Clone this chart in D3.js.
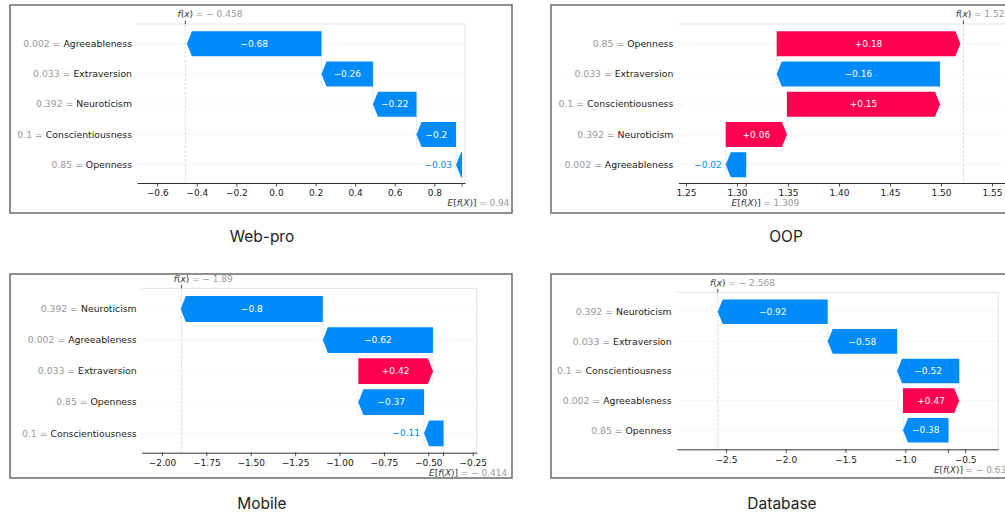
<!DOCTYPE html>
<html>
<head>
<meta charset="utf-8">
<script src="https://cdn.jsdelivr.net/npm/d3@7"></script>
<style>
  html, body { margin: 0; padding: 0; background: #fff; }
  svg { display: block; }
</style>
</head>
<body>
<svg id="chart" width="1005" height="515"></svg>
<script>
// ---- Data -----------------------------------------------------------------
// Input value of each personality trait (shown in grey before the name)
const traitNames  = ["Agreeableness", "Extraversion", "Neuroticism", "Conscientiousness", "Openness"];
const traitInputs = ["0.002", "0.033", "0.392", "0.1", "0.85"];

// Web-pro: rows top -> bottom, SHAP contributions, base value E[f(X)] and output f(x)
const webproFeatures = ["Agreeableness", "Extraversion", "Neuroticism", "Conscientiousness", "Openness"];
const webproShap     = [-0.68, -0.26, -0.22, -0.2, -0.03];
const webproBase     = 0.94;
const webproFx       = -0.458;
const webproTicks    = [-0.6, -0.4, -0.2, 0.0, 0.2, 0.4, 0.6, 0.8];
const webproDomain   = [-0.702, 0.955];

// OOP
const oopFeatures = ["Openness", "Extraversion", "Conscientiousness", "Neuroticism", "Agreeableness"];
const oopShap     = [0.18, -0.16, 0.15, 0.06, -0.02];
const oopBase     = 1.309;
const oopFx       = 1.522;
const oopTicks    = [1.25, 1.30, 1.35, 1.40, 1.45, 1.50, 1.55];
const oopDomain   = [1.2425, 1.5637];

// Mobile
const mobileFeatures = ["Neuroticism", "Agreeableness", "Extraversion", "Openness", "Conscientiousness"];
const mobileShap     = [-0.8, -0.62, 0.42, -0.37, -0.11];
const mobileBase     = -0.414;
const mobileFx       = -1.89;
const mobileTicks    = [-2.0, -1.75, -1.5, -1.25, -1.0, -0.75, -0.5, -0.25];
const mobileDomain   = [-2.114, -0.2275];

// Database
const databaseFeatures = ["Neuroticism", "Extraversion", "Conscientiousness", "Agreeableness", "Openness"];
const databaseShap     = [-0.92, -0.58, -0.52, 0.47, -0.38];
const databaseBase     = -0.639;
const databaseFx       = -2.568;
const databaseTicks    = [-2.5, -2.0, -1.5, -1.0, -0.5];
const databaseDomain   = [-2.912, -0.222];

// ---- Styling --------------------------------------------------------------
const BLUE = "#008bfb";
const RED = "#ff0051";
const GREY = "#999999";
const INK = "#1a1a1a";
const FONT = "'DejaVu Sans', sans-serif";

const panels = [
  { title: "Web-pro", features: webproFeatures, shap: webproShap, base: webproBase, fx: webproFx,
    ticks: webproTicks, domain: webproDomain, tickFmt: ".1f",
    box: [10, 5, 502, 208], plot: { l: 137, r: 465, t: 24, b: 183 }, rows: [43.7, 164.7], titlePos: [262, 242] },
  { title: "OOP", features: oopFeatures, shap: oopShap, base: oopBase, fx: oopFx,
    ticks: oopTicks, domain: oopDomain, tickFmt: ".2f",
    box: [551, 5, 502, 208], plot: { l: 678.3, r: 1006, t: 24, b: 183 }, rows: [43.7, 164.7], titlePos: [786, 242] },
  { title: "Mobile", features: mobileFeatures, shap: mobileShap, base: mobileBase, fx: mobileFx,
    ticks: mobileTicks, domain: mobileDomain, tickFmt: ".2f",
    box: [10, 274, 502, 204], plot: { l: 141.7, r: 476.7, t: 288.3, b: 452.7 }, rows: [309, 433.3], titlePos: [262, 509] },
  { title: "Database", features: databaseFeatures, shap: databaseShap, base: databaseBase, fx: databaseFx,
    ticks: databaseTicks, domain: databaseDomain, tickFmt: ".1f",
    box: [551, 274, 502, 204], plot: { l: 676.7, r: 998.3, t: 292.3, b: 449.3 }, rows: [311.7, 430.3], titlePos: [782, 509] }
];

const svg = d3.select("#chart");
const fmtShap = d3.format("+.2~f");
const fmtVal = d3.format(".3~f");
const eqText = v => (v < 0 ? "= \u2212 " + fmtVal(-v) : "= " + fmtVal(v));

// Arrow-shaped bar from x0 (tail) to x1 (tip)
function arrowPath(x0, x1, yc, h, hl) {
  const dir = x1 >= x0 ? 1 : -1;
  const head = Math.min(hl, Math.abs(x1 - x0));
  const xb = x1 - dir * head;
  return `M${x0},${yc - h / 2}L${xb},${yc - h / 2}L${x1},${yc}L${xb},${yc + h / 2}L${x0},${yc + h / 2}Z`;
}

panels.forEach(p => {
  const g = svg.append("g");
  const n = p.features.length;

  // panel frame
  g.append("rect")
    .attr("x", p.box[0]).attr("y", p.box[1])
    .attr("width", p.box[2]).attr("height", p.box[3])
    .attr("fill", "none").attr("stroke", "#5f5f5f").attr("stroke-width", 1.4);

  // title below the frame
  g.append("text")
    .attr("x", p.titlePos[0]).attr("y", p.titlePos[1])
    .attr("text-anchor", "middle")
    .attr("font-family", "Inter, 'Noto Sans', sans-serif")
    .attr("font-size", 15.5).attr("fill", "#222")
    .text(p.title);

  const x = d3.scaleLinear().domain(p.domain).range([p.plot.l, p.plot.r]);
  const y = d3.scalePoint().domain(p.features).range(p.rows);
  const step = (p.rows[1] - p.rows[0]) / (n - 1);
  const barH = step * 0.83;

  // cumulative segments, bottom row starts at the base value
  const segs = [];
  let cum = p.base;
  for (let i = n - 1; i >= 0; i--) {
    segs[i] = { name: p.features[i], v: p.shap[i], start: cum, end: cum + p.shap[i] };
    cum += p.shap[i];
  }

  // dotted row guides
  g.selectAll(".row").data(p.features).enter().append("line")
    .attr("x1", p.plot.l).attr("x2", p.plot.r)
    .attr("y1", d => y(d)).attr("y2", d => y(d))
    .attr("stroke", "#cccccc").attr("stroke-width", 0.6).attr("stroke-dasharray", "1,3");

  // light top and right frame of the plotting area
  g.append("line").attr("x1", p.plot.l).attr("x2", p.plot.r).attr("y1", p.plot.t).attr("y2", p.plot.t)
    .attr("stroke", "#e3e3e3").attr("stroke-width", 1);
  g.append("line").attr("x1", p.plot.r).attr("x2", p.plot.r).attr("y1", p.plot.t).attr("y2", p.plot.b)
    .attr("stroke", "#e3e3e3").attr("stroke-width", 1);

  // f(x) guide line across the whole plot
  g.append("line").attr("x1", x(p.fx)).attr("x2", x(p.fx)).attr("y1", p.plot.t).attr("y2", p.plot.b)
    .attr("stroke", "#cfcfcf").attr("stroke-width", 0.7).attr("stroke-dasharray", "3,1.5");
  // E[f(X)] guide line over the bottom row
  g.append("line").attr("x1", x(p.base)).attr("x2", x(p.base))
    .attr("y1", p.plot.b).attr("y2", p.plot.b - (p.plot.b - p.plot.t) / n)
    .attr("stroke", "#cfcfcf").attr("stroke-width", 0.7).attr("stroke-dasharray", "3,1.5");

  // connectors between consecutive bars
  for (let i = 0; i < n - 1; i++) {
    const s = segs[i];
    g.append("line").attr("x1", x(s.start)).attr("x2", x(s.start))
      .attr("y1", y(s.name) - step * 0.4).attr("y2", y(p.features[i + 1]) + step * 0.4)
      .attr("stroke", "#cccccc").attr("stroke-width", 0.6).attr("stroke-dasharray", "3,1.5");
  }

  // bars
  g.selectAll(".bar").data(segs).enter().append("path")
    .attr("d", d => arrowPath(x(d.start), x(d.end), y(d.name), barH, 5))
    .attr("fill", d => (d.v >= 0 ? RED : BLUE));

  // value labels: inside when they fit, otherwise past the tip
  segs.forEach(d => {
    const x0 = x(d.start), x1 = x(d.end);
    const t = g.append("text")
      .attr("x", (x0 + x1) / 2).attr("y", y(d.name)).attr("dy", "0.35em")
      .attr("text-anchor", "middle")
      .attr("font-family", FONT).attr("font-size", 9).attr("fill", "#fff")
      .text(fmtShap(d.v));
    const w = t.node().getComputedTextLength();
    if (w > Math.abs(x1 - x0)) {
      const pos = d.v >= 0;
      t.attr("x", x1 + (pos ? 4 : -4))
        .attr("text-anchor", pos ? "start" : "end")
        .attr("fill", pos ? RED : BLUE);
    }
  });

  // y labels: "input = feature"
  p.features.forEach(f => {
    const t = g.append("text")
      .attr("x", p.plot.l - 5).attr("y", y(f)).attr("dy", "0.35em")
      .attr("text-anchor", "end")
      .attr("font-family", FONT).attr("font-size", 9.3);
    t.append("tspan").attr("fill", GREY).text(traitInputs[traitNames.indexOf(f)] + " = ");
    t.append("tspan").attr("fill", INK).text(f);
  });

  // bottom axis
  const axis = d3.axisBottom(x).tickValues(p.ticks).tickFormat(d3.format(p.tickFmt))
    .tickSizeInner(3.5).tickSizeOuter(0).tickPadding(3.5);
  const ax = g.append("g").attr("transform", `translate(0,${p.plot.b})`).call(axis);
  ax.select(".domain").attr("stroke", "#333").attr("stroke-width", 1);
  ax.selectAll(".tick line").attr("stroke", "#333").attr("stroke-width", 0.9);
  ax.selectAll(".tick text").attr("font-family", FONT).attr("font-size", 9).attr("fill", INK);

  // E[f(X)] tick and label
  g.append("line").attr("x1", x(p.base)).attr("x2", x(p.base)).attr("y1", p.plot.b).attr("y2", p.plot.b + 3.5)
    .attr("stroke", "#333").attr("stroke-width", 0.9);
  const eLab = g.append("text")
    .attr("x", x(p.base)).attr("y", p.plot.b + 23.3)
    .attr("text-anchor", "middle")
    .attr("font-family", FONT).attr("font-size", 9).attr("fill", "#333");
  eLab.append("tspan").attr("font-style", "italic").text("E");
  eLab.append("tspan").text("[");
  eLab.append("tspan").attr("font-style", "italic").text("f");
  eLab.append("tspan").text("(");
  eLab.append("tspan").attr("font-style", "italic").text("X");
  eLab.append("tspan").text(")]");
  g.append("text")
    .attr("x", x(p.base) + 17).attr("y", p.plot.b + 23.3)
    .attr("font-family", FONT).attr("font-size", 9).attr("fill", GREY)
    .text(eqText(p.base));

  // f(x) tick and label above the plot
  g.append("line").attr("x1", x(p.fx)).attr("x2", x(p.fx)).attr("y1", p.plot.t - 3.5).attr("y2", p.plot.t)
    .attr("stroke", "#333").attr("stroke-width", 0.9);
  const fLab = g.append("text")
    .attr("x", x(p.fx)).attr("y", p.plot.t - 6.7)
    .attr("text-anchor", "middle")
    .attr("font-family", FONT).attr("font-size", 9).attr("fill", "#333");
  fLab.append("tspan").attr("font-style", "italic").text("f");
  fLab.append("tspan").text("(");
  fLab.append("tspan").attr("font-style", "italic").text("x");
  fLab.append("tspan").text(")");
  g.append("text")
    .attr("x", x(p.fx) + 10.5).attr("y", p.plot.t - 6.7)
    .attr("font-family", FONT).attr("font-size", 9).attr("fill", GREY)
    .text(eqText(p.fx));
});
</script>
</body>
</html>
